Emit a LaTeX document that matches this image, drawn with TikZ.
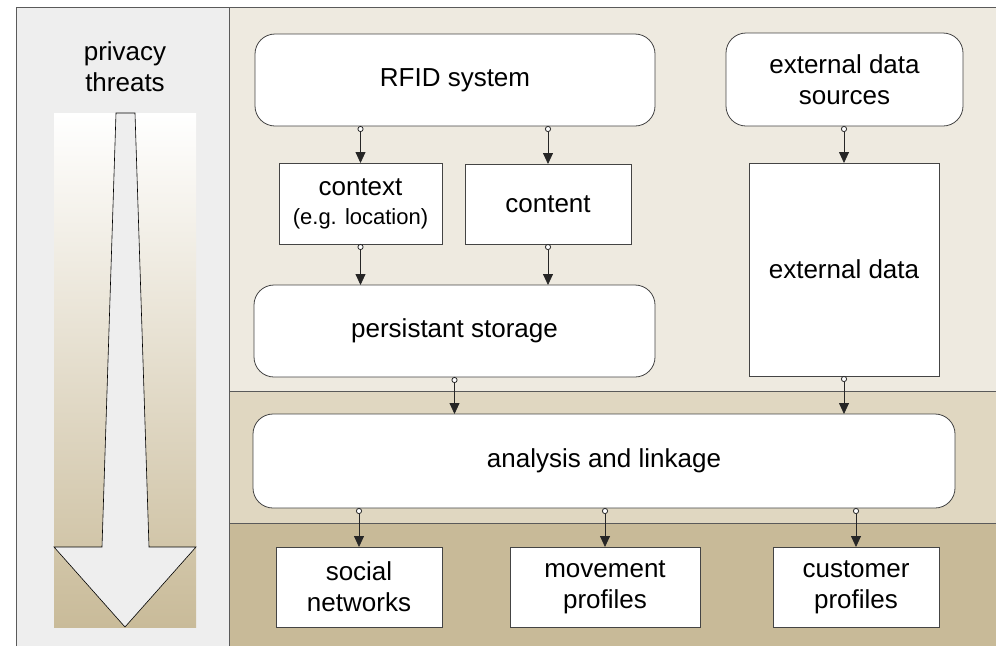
\documentclass[tikz,border=0pt]{standalone}
\usepackage{fontspec}
\setmainfont{Liberation Sans}
\usetikzlibrary{arrows.meta}
\definecolor{leftbg}{HTML}{EEEEEE}
\definecolor{bandA}{HTML}{EEEAE0}
\definecolor{bandB}{HTML}{E0D7C1}
\definecolor{bandC}{HTML}{C8BA98}
\definecolor{gradbot}{HTML}{C9BB99}
\definecolor{frameline}{HTML}{5A5A5A}
\definecolor{boxline}{HTML}{444444}
\begin{document}
\begin{tikzpicture}[x=1pt,y=-1pt,
  box/.style={draw=boxline, line width=0.8pt, fill=white, inner sep=0pt, outer sep=0pt,
    align=center, font=\fontsize{26}{31}\selectfont},
  rbox/.style={box, rounded corners=20pt},
  conn/.style={draw=black!85, line width=0.8pt,
    {Circle[open,fill=white,length=6pt,width=6pt]}-{Triangle[length=11pt,width=10pt]}},
  lbl/.style={align=center, font=\fontsize{26}{31}\selectfont}]
\useasboundingbox (0,0) rectangle (996,646);
% backgrounds
\fill[leftbg] (16,7) rectangle (229,646);
\fill[bandA] (229,7) rectangle (996,391);
\fill[bandB] (229,391) rectangle (996,523);
\fill[bandC] (229,523) rectangle (996,646);
% frame lines
\draw[frameline, line width=0.8pt] (16,646) -- (16,7) -- (996,7);
\draw[frameline, line width=0.9pt] (229,7) -- (229,646);
\draw[frameline, line width=0.8pt] (229,391) -- (996,391);
\draw[frameline, line width=0.8pt] (229,523) -- (996,523);
% privacy threats column
\node[lbl] (pt) at (125,67) {privacy\\threats};
\shade[top color=white, bottom color=gradbot] (54,113) rectangle (196,627);
\draw[fill=leftbg, line width=0.6pt, line join=miter]
  (116,113) -- (135,113) -- (149,547) -- (196,547) -- (125,627) -- (54,547) -- (102,547) -- cycle;
% nodes
\node[rbox, minimum width=400pt, minimum height=92pt] (rfid) at (455,80) {RFID system};
\node[rbox, minimum width=237pt, minimum height=93pt] (src) at (844.5,79.5) {external data\\sources};
\node[box, minimum width=163pt, minimum height=81pt] (ctx) at (360.5,203.5)
  {context\\[-2pt]{\fontsize{22}{26}\selectfont (e.g. location)}};
\node[box, minimum width=166pt, minimum height=80pt] (cnt) at (548,204) {content};
\node[rbox, minimum width=401pt, minimum height=92pt] (sto) at (454.5,331) {persistant storage};
\node[box, minimum width=190pt, minimum height=213pt] (ext) at (844,269.5) {external data};
\node[rbox, minimum width=702pt, minimum height=94pt] (ana) at (604,461) {analysis and linkage};
\node[box, minimum width=166pt, minimum height=80pt] (soc) at (359,587) {social\\networks};
\node[box, minimum width=190pt, minimum height=80pt] (mov) at (605,587) {movement\\profiles};
\node[box, minimum width=166pt, minimum height=80pt] (cus) at (856,587) {customer\\profiles};
% connectors
\draw[conn] (rfid.south -| ctx.north) -- (ctx.north);
\draw[conn] (rfid.south -| cnt.north) -- (cnt.north);
\draw[conn] (src.south -| ext.north) -- (ext.north);
\draw[conn] (ctx.south) -- (ctx.south |- sto.north);
\draw[conn] (cnt.south) -- (cnt.south |- sto.north);
\draw[conn] (sto.south) -- (sto.south |- ana.north);
\draw[conn] (ext.south) -- (ext.south |- ana.north);
\draw[conn] (ana.south -| soc.north) -- (soc.north);
\draw[conn] (ana.south -| mov.north) -- (mov.north);
\draw[conn] (ana.south -| cus.north) -- (cus.north);
\end{tikzpicture}
\end{document}
